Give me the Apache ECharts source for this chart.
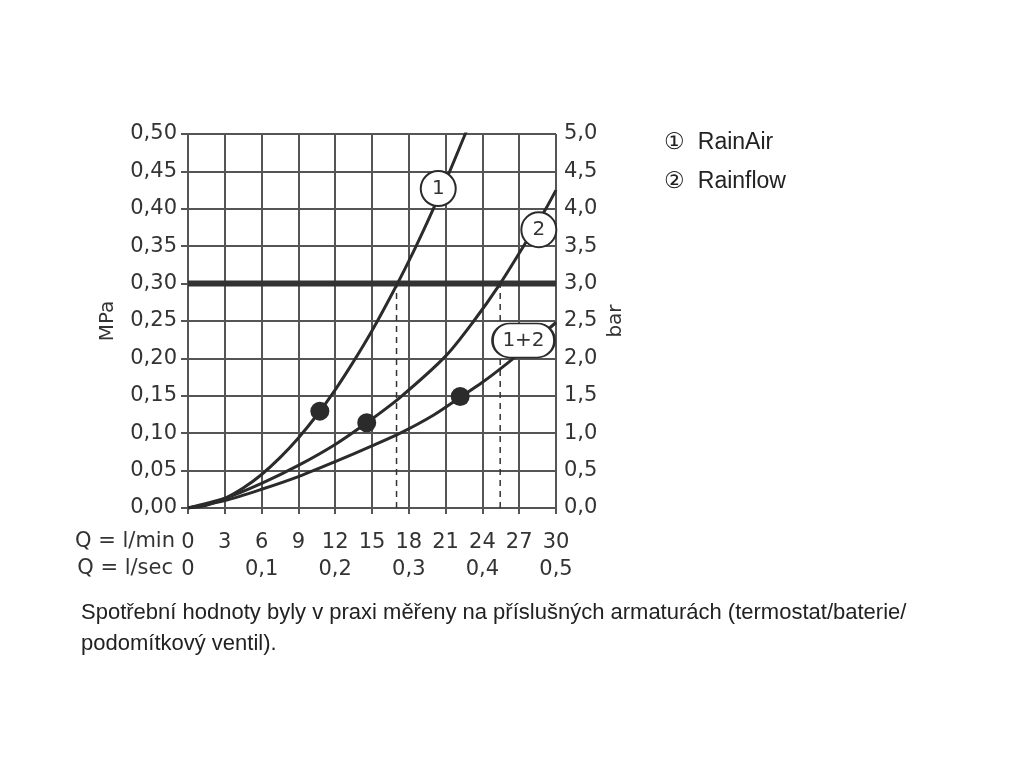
<!DOCTYPE html>
<html>
<head>
<meta charset="utf-8">
<script src="https://cdn.jsdelivr.net/npm/echarts@6/dist/echarts.min.js"></script>
<style>html,body{margin:0;padding:0;background:#fff}#c{width:1024px;height:768px}</style>
</head>
<body>
<div id="c"></div>
<script>
// ---- data ----
var flowTicks = [0, 3, 6, 9, 12, 15, 18, 21, 24, 27, 30];            // l/min
var flowSecLabels = ['0', '0,1', '0,2', '0,3', '0,4', '0,5'];         // l/sec
var mpaLabels = ['0,00','0,05','0,10','0,15','0,20','0,25','0,30','0,35','0,40','0,45','0,50'];
var barLabels = ['0,0','0,5','1,0','1,5','2,0','2,5','3,0','3,5','4,0','4,5','5,0'];

// curve 1 RainAir  [l/min, MPa]
var rainAir = [[0,0],[1.5,0.0036],[3,0.0127],[4.5,0.0266],[6,0.0448],[7.5,0.0673],[9,0.0937],[10.5,0.124],[12,0.158],[13.5,0.196],[15,0.237],[16.5,0.282],[18,0.330],[19.5,0.382],[21,0.437],[22.5,0.496],[23,0.516]];
// curve 2 Rainflow
var rainflow = [[0,0],[3,0.013],[6,0.033],[9,0.057],[12,0.085],[14.57,0.114],[17.3,0.148],[21,0.203],[23.3,0.250],[25.45,0.300],[27.35,0.350],[29.1,0.398],[30,0.425]];
// curve 1+2
var combined = [[0,0],[3,0.010],[6,0.025],[9,0.042],[12,0.062],[15,0.083],[17.3,0.100],[20,0.124],[22.19,0.148],[24,0.168],[26,0.193],[28,0.220],[30,0.248]];
// operating points
var dots = [[10.75,0.1295],[14.57,0.114],[22.19,0.149]];
// curve tags
var tags = [[20.4,0.427,'1'],[28.6,0.372,'2']];
var tagCombined = [[27.35,0.224,'1+2']];
// recommended pressure and read-off flows
var limitPressure = 0.30;
var readFlows = [17.0, 25.45];

var lineCol = '#2b2b2b';
var gridCol = '#555555';
var txtCol = '#333333';
var font = 'DejaVu Sans';
var fs = 21;

var chart = echarts.init(document.getElementById('c'));
chart.setOption({
  animation: false,
  backgroundColor: '#ffffff',
  title: {
    text: 'Spotřební hodnoty byly v praxi měřeny na příslušných armaturách (termostat/baterie/\npodomítkový ventil).',
    left: 76, top: 592,
    textStyle: {fontFamily: 'Liberation Sans', fontSize: 22, fontWeight: 'normal', color: '#222', lineHeight: 31}
  },
  legend: {
    orient: 'vertical', left: 654, top: 126, itemGap: 16,
    icon: 'none', itemWidth: 0,
    data: ['RainAir', 'Rainflow'],
    formatter: function (n) { return (n === 'RainAir' ? '\u2460  ' : '\u2461  ') + n; },
    textStyle: {fontFamily: 'Liberation Sans', fontSize: 23, color: '#222'}
  },
  graphic: [
    {type: 'text', x: 175, y: 542, style: {text: 'Q = l/min', font: fs + 'px "DejaVu Sans"', fill: txtCol, textAlign: 'right', textVerticalAlign: 'middle'}},
    {type: 'text', x: 173, y: 569, style: {text: 'Q = l/sec', font: fs + 'px "DejaVu Sans"', fill: txtCol, textAlign: 'right', textVerticalAlign: 'middle'}}
  ],
  grid: {left: 188, right: 468, top: 134, bottom: 260},
  xAxis: [{
    type: 'value', min: 0, max: 30, interval: 3, position: 'bottom',
    axisLine: {show: true, lineStyle: {color: gridCol, width: 2}},
    axisTick: {show: true, length: 6, lineStyle: {color: gridCol, width: 2}},
    splitLine: {show: true, lineStyle: {color: gridCol, width: 2}},
    axisLabel: {margin: 24, color: txtCol, fontFamily: font, fontSize: fs,
      formatter: function (v) { var i = flowTicks.indexOf(Math.round(v)); return i >= 0 ? String(flowTicks[i]) : ''; }}
  }, {
    type: 'value', min: 0, max: 0.5, interval: 0.1, position: 'bottom', offset: 27,
    axisLine: {show: false}, axisTick: {show: false}, splitLine: {show: false},
    axisLabel: {margin: 24, color: txtCol, fontFamily: font, fontSize: fs,
      formatter: function (v) { return flowSecLabels[Math.round(v * 10)] || ''; }}
  }],
  yAxis: [{
    type: 'value', min: 0, max: 0.5, interval: 0.05, position: 'left',
    name: 'MPa', nameLocation: 'middle', nameGap: 70, nameRotate: 90,
    nameTextStyle: {color: txtCol, fontFamily: font, fontSize: 20},
    axisLine: {show: true, lineStyle: {color: gridCol, width: 2}},
    axisTick: {show: true, length: 7, lineStyle: {color: gridCol, width: 2}},
    splitLine: {show: true, lineStyle: {color: gridCol, width: 2}},
    axisLabel: {margin: 11, color: txtCol, fontFamily: font, fontSize: fs,
      formatter: function (v) { return mpaLabels[Math.round(v / 0.05)] || ''; }}
  }, {
    type: 'value', min: 0, max: 5, interval: 0.5, position: 'right',
    name: 'bar', nameLocation: 'middle', nameGap: 50, nameRotate: 90,
    nameTextStyle: {color: txtCol, fontFamily: font, fontSize: 20},
    axisLine: {show: true, lineStyle: {color: gridCol, width: 2}},
    axisTick: {show: true, length: 7, lineStyle: {color: gridCol, width: 2}},
    splitLine: {show: false},
    axisLabel: {margin: 8, color: txtCol, fontFamily: font, fontSize: fs,
      formatter: function (v) { return barLabels[Math.round(v / 0.5)] || ''; }}
  }],
  series: [
    {name: 'limit', type: 'line', data: [[0, limitPressure], [30, limitPressure]], symbol: 'none', z: 3,
      lineStyle: {color: '#333', width: 6}},
    {name: 'read1', type: 'line', data: [[readFlows[0], 0], [readFlows[0], limitPressure]], symbol: 'none', z: 3,
      lineStyle: {color: '#333', width: 1.5, type: [6, 5]}},
    {name: 'read2', type: 'line', data: [[readFlows[1], 0], [readFlows[1], limitPressure]], symbol: 'none', z: 3,
      lineStyle: {color: '#333', width: 1.5, type: [6, 5]}},
    {name: 'RainAir', type: 'line', data: rainAir, smooth: 0.3, symbol: 'none', z: 4, color: lineCol,
      lineStyle: {color: lineCol, width: 3}},
    {name: 'Rainflow', type: 'line', data: rainflow, smooth: 0.3, symbol: 'none', z: 4, color: lineCol,
      lineStyle: {color: lineCol, width: 3}},
    {name: '1+2', type: 'line', data: combined, smooth: 0.3, symbol: 'none', z: 4,
      lineStyle: {color: lineCol, width: 3}},
    {name: 'points', type: 'scatter', data: dots, symbol: 'circle', symbolSize: 19, z: 5,
      itemStyle: {color: lineCol, opacity: 1}},
    {name: 'tags', type: 'scatter', data: tags, symbol: 'circle', symbolSize: 35, z: 6,
      itemStyle: {color: '#ffffff', borderColor: lineCol, borderWidth: 2, opacity: 1},
      label: {show: true, position: 'inside', formatter: function (p) { return p.value[2]; },
        color: txtCol, fontFamily: font, fontSize: 20}},
    {name: 'tag12', type: 'scatter', data: tagCombined, z: 6,
      symbol: 'path://M17,0L45,0A17,17,0,0,1,45,34L17,34A17,17,0,0,1,17,0Z', symbolSize: [62, 34],
      itemStyle: {color: '#ffffff', borderColor: lineCol, borderWidth: 2, opacity: 1},
      label: {show: true, position: 'inside', formatter: function (p) { return p.value[2]; },
        color: txtCol, fontFamily: font, fontSize: 20}}
  ]
});
</script>
</body>
</html>
